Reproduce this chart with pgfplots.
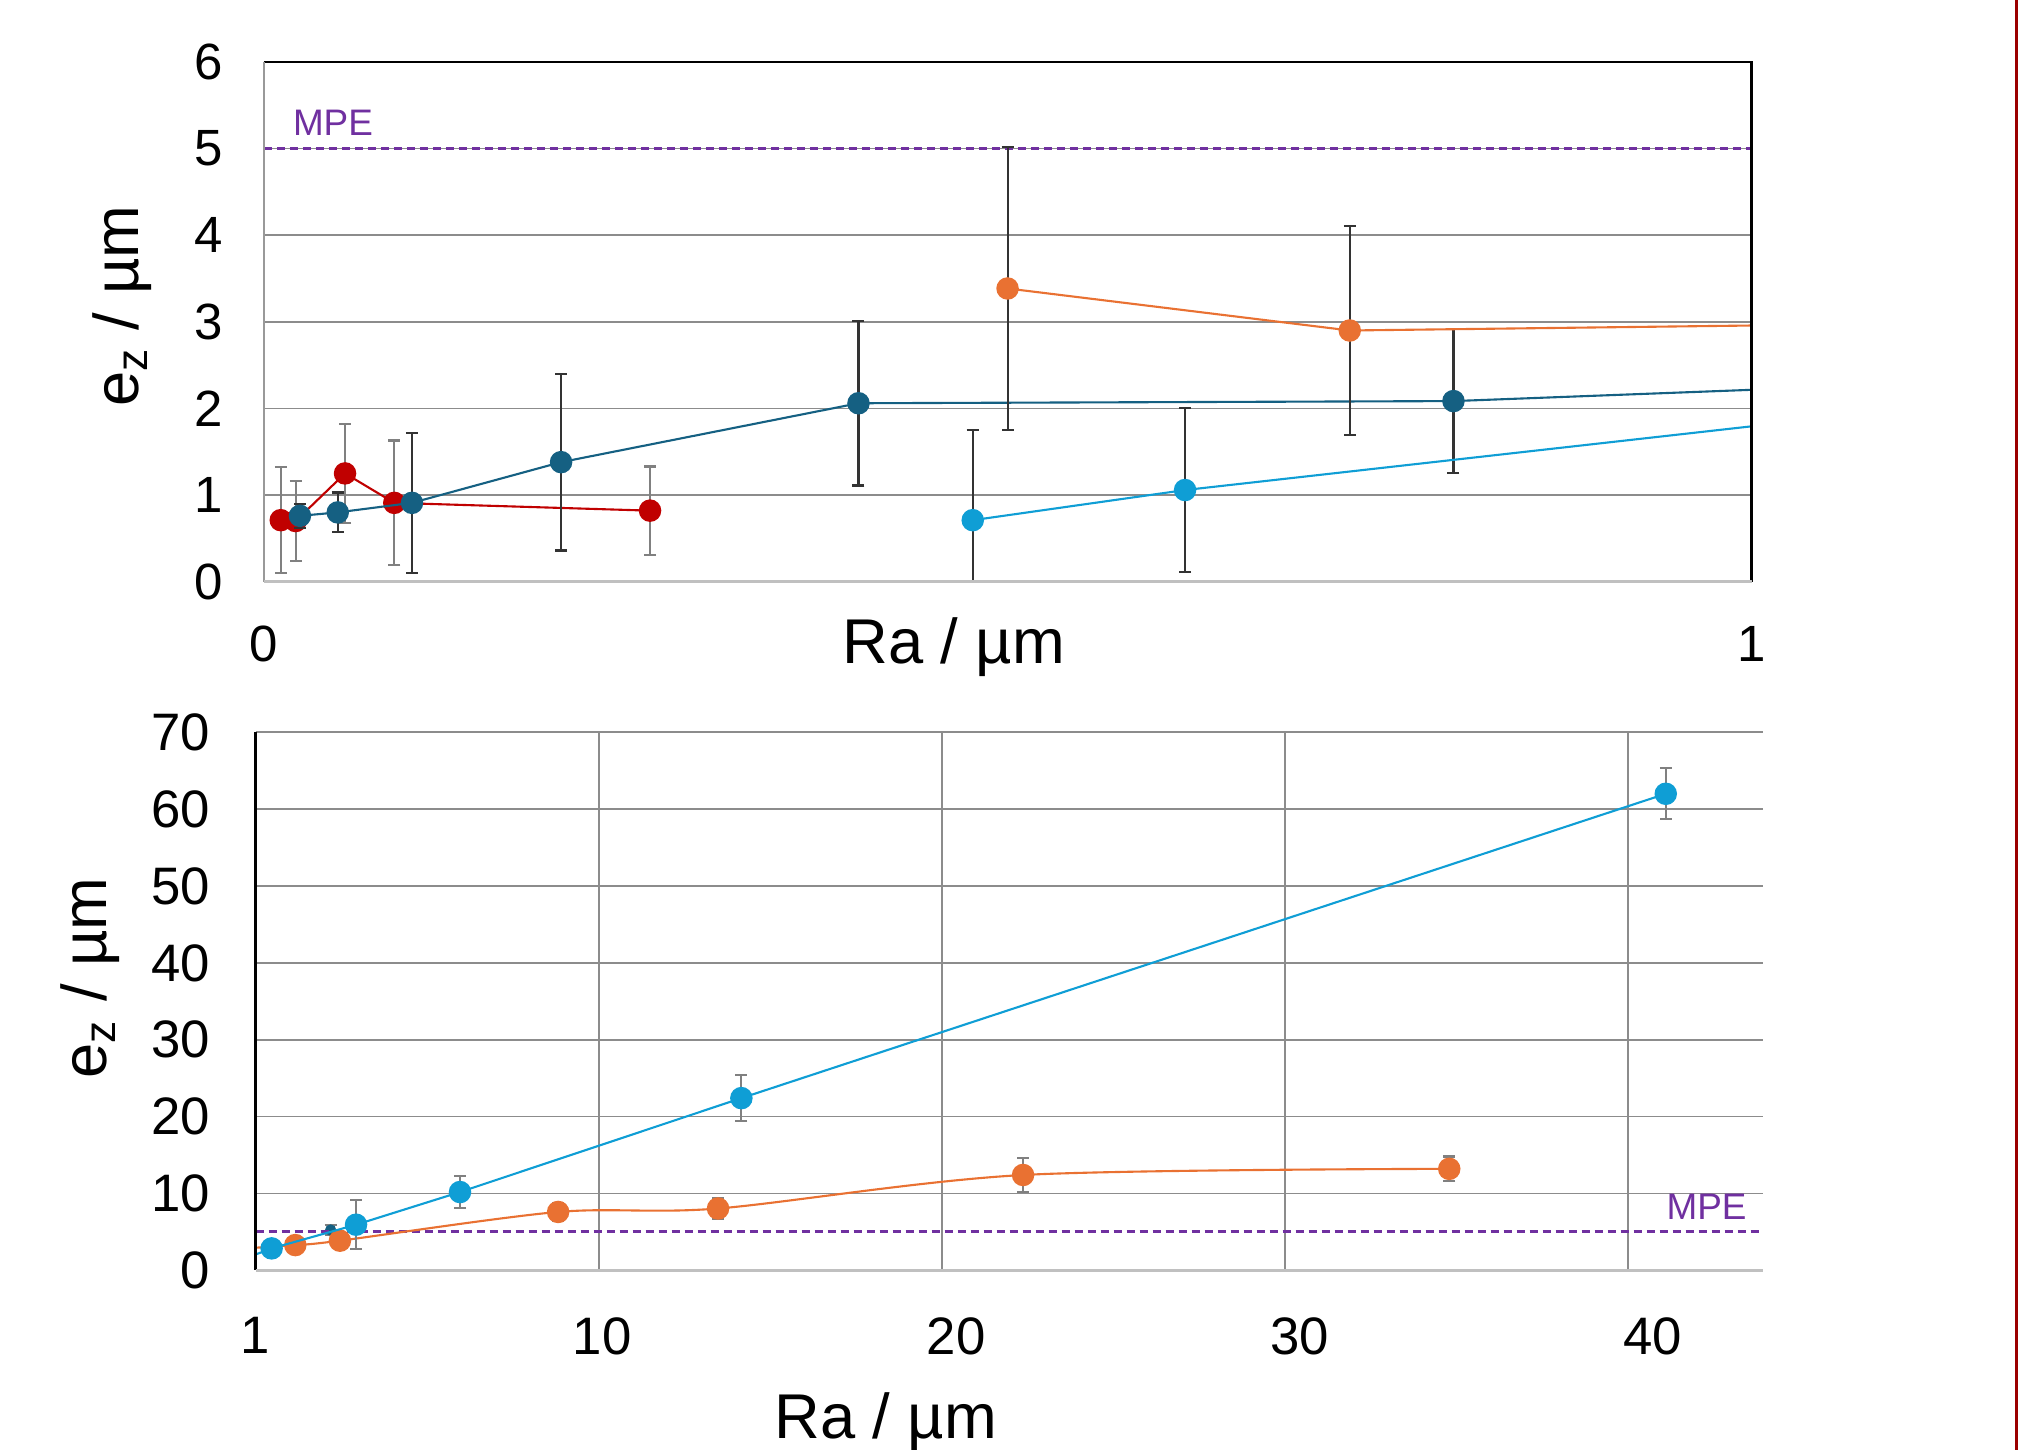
\documentclass[border=0pt]{standalone}
\usepackage{fontspec}
\setmainfont{Liberation Sans}
\usepackage{pgfplots}
\pgfplotsset{compat=1.18}
\definecolor{cRed}{HTML}{C00000}
\definecolor{cDark}{HTML}{156082}
\definecolor{cOrange}{HTML}{E97132}
\definecolor{cLight}{HTML}{0F9ED5}
\definecolor{cMPE}{HTML}{7030A0}
\definecolor{cGrid}{HTML}{8C8C8C}
\definecolor{cAxisL}{HTML}{C0C0C0}
\definecolor{cFrame}{HTML}{9B0000}
\definecolor{cErrG}{HTML}{808080}
\definecolor{cErrD}{HTML}{333333}
\pgfplotsset{
  ser/.style={color=#1, line width=0.6pt, mark=*, mark size=2.9pt,
    mark options={solid, fill=#1, draw=#1}},
  errs/.style={error bars/.cd, y dir=both, y explicit,
    error bar style={color=#1, line width=0.6pt},
    error mark options={rotate=90, mark size=0.6mm, line width=0.6pt, color=#1}},
}
\begin{document}
\begin{tikzpicture}
\path[use as bounding box] (0,0) rectangle (20.18,14.5);
\draw[cFrame, line width=0.3mm] (20.16,0) -- (20.16,14.5);

% ---------------- top axis ----------------
\begin{axis}[
  at={(2.638cm,8.683cm)}, anchor=south west,
  scale only axis, width=14.878cm, height=5.197cm,
  xmin=0, xmax=1, ymin=0, ymax=6,
  xtick={0,1}, ytick={0,1,...,6},
  major tick length=0,
  axis line style={draw=none},
  ymajorgrids, grid style={cGrid, line width=0.5pt},
  clip mode=individual, clip marker paths=true,
  /pgf/number format/assume math mode=true,
  tick label style={font=\fontsize{14.5}{16}\selectfont},
  yticklabel style={xshift=-0.29cm},
  xticklabel style={yshift=-0.32cm},
  xlabel={Ra / µm},
  xlabel style={at={(axis description cs:0.4637,-0.125)}, anchor=center, font=\fontsize{18}{20}\selectfont},
  ylabel={e\textsubscript{z} / µm},
  ylabel style={at={(axis description cs:-0.0953,0.53)}, anchor=center, font=\fontsize{18}{20}\selectfont},
]
\addplot[cMPE, dash pattern=on 0.85mm off 0.45mm, line width=0.7pt, forget plot] coordinates {(0,5) (1,5)};

\addplot[ser=cRed, errs=cErrG] coordinates {
 (0.0114,0.71) +- (0,0.61)
 (0.0214,0.70) +- (0,0.46)
 (0.0546,1.25) +- (0,0.57)
 (0.0877,0.91) +- (0,0.72)
 (0.2596,0.82) +- (0,0.51)
};
\addplot[ser=cDark, errs=cErrD] coordinates {
 (0.0243,0.76) +- (0,0.14)
 (0.0497,0.80) +- (0,0.23)
 (0.0996,0.91) +- (0,0.81)
 (0.1998,1.38) +- (0,1.02)
 (0.3997,2.06) +- (0,0.95)
 (0.7996,2.085) +- (0,0.83)
 (1.2,2.345) +- (0,0)
};
\addplot[ser=cOrange, errs=cErrD] coordinates {
 (0.4999,3.385) +- (0,1.63)
 (0.7299,2.90) +- (0,1.21)
 (1.2,3.00) +- (0,0)
};
\addplot[ser=cLight, errs=cErrD] coordinates {
 (0.4765,0.71) +- (0,1.04)
 (0.6192,1.058) +- (0,0.95)
 (1.2,2.18) +- (0,0)
};
\node[cMPE, font=\fontsize{10.5}{12}\selectfont] at (axis cs:0.0465,5.30) {MPE};
\draw[black, line width=0.7pt] (rel axis cs:0,1) -- (rel axis cs:1,1) -- (rel axis cs:1,0);
\draw[black!40, line width=0.6pt] (rel axis cs:0,1) -- (rel axis cs:0,0);
\draw[cAxisL, line width=1pt] (rel axis cs:0,0) -- (rel axis cs:1,0);
\end{axis}

% ---------------- bottom axis ----------------
\begin{axis}[
  at={(2.555cm,1.797cm)}, anchor=south west,
  scale only axis, width=15.077cm, height=5.38cm,
  xmin=0, xmax=43.94, ymin=0, ymax=70,
  xtick={10,20,30,40}, xticklabels={},
  extra x ticks={0,10.1,20.42,30.44,40.72},
  extra x tick labels={1,10,20,30,40},
  extra x tick style={grid=none, major tick length=0},
  ytick={0,10,...,70},
  major tick length=0,
  axis line style={draw=none},
  xmajorgrids, ymajorgrids, grid style={cGrid, line width=0.5pt},
  clip mode=individual, clip marker paths=true,
  /pgf/number format/assume math mode=true,
  tick label style={font=\fontsize{15}{17}\selectfont},
  yticklabel style={xshift=-0.33cm},
  xticklabel style={yshift=-0.35cm},
  xlabel={Ra / µm},
  xlabel style={at={(axis description cs:0.418,-0.282)}, anchor=center, font=\fontsize{18}{20}\selectfont},
  ylabel={e\textsubscript{z} / µm},
  ylabel style={at={(axis description cs:-0.1098,0.543)}, anchor=center, font=\fontsize{18}{20}\selectfont},
]
\addplot[ser=cDark, mark size=1.3pt, errs=cErrG] coordinates {
 (2.19,5.24) +- (0,0.7)
};
\addplot[cMPE, dash pattern=on 0.85mm off 0.45mm, line width=0.8pt, forget plot] coordinates {(0,5) (44,5)};
\addplot[ser=cOrange, smooth, errs=cErrG] coordinates {
 (-0.5,2.80) +- (0,0)
 (1.16,3.28) +- (0,1.04)
 (2.46,3.85) +- (0,1.0)
 (8.82,7.59) +- (0,1.2)
 (13.48,8.04) +- (0,1.3)
 (22.37,12.4) +- (0,2.2)
 (34.79,13.2) +- (0,1.6)
};
\addplot[ser=cLight, errs=cErrG] coordinates {
 (-0.5,1.20) +- (0,0)
 (0.47,2.85) +- (0,1.0)
 (2.93,5.93) +- (0,3.2)
 (5.96,10.18) +- (0,2.1)
 (14.16,22.4) +- (0,3.0)
 (41.1,62.0) +- (0,3.3)
};
\node[cMPE, font=\fontsize{10.5}{12}\selectfont] at (axis cs:42.29,8.2) {MPE};
\draw[black, line width=0.8pt] (rel axis cs:0,1) -- (rel axis cs:0,0);
\draw[cAxisL, line width=1pt] (rel axis cs:0,0) -- (rel axis cs:1,0);
\end{axis}
\end{tikzpicture}
\end{document}
